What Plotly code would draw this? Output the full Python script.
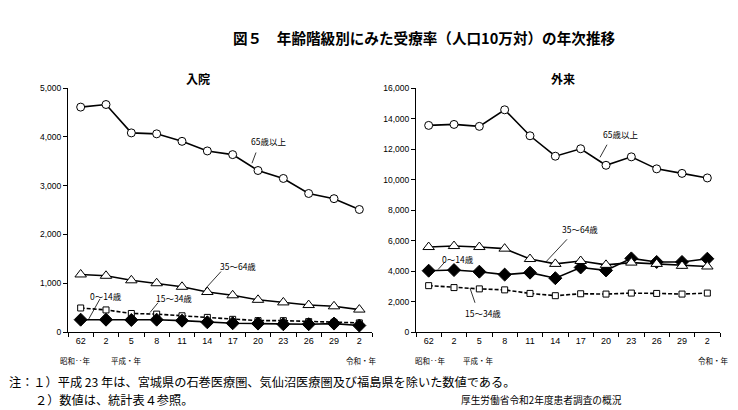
import plotly.graph_objects as go

years = ["S62", "H2", "H5", "H8", "H11", "H14", "H17", "H20", "H23", "H26", "H29", "R2"]
tick_labels = ["62", "2", "5", "8", "11", "14", "17", "20", "23", "26", "29", "2"]

# 入院
in_65 = [4611, 4664, 4082, 4063, 3909, 3712, 3637, 3311, 3148, 2840, 2734, 2512]
in_35 = [1180, 1153, 1060, 1000, 927, 820, 753, 660, 607, 553, 527, 460]
in_15 = [493, 453, 380, 367, 333, 300, 260, 233, 233, 213, 200, 187]
in_0 = [253, 253, 247, 253, 233, 200, 180, 173, 160, 160, 173, 133]

# 外来
out_65 = [13555, 13619, 13491, 14577, 12874, 11533, 12023, 10938, 11491, 10704, 10406, 10108]
out_35 = [5575, 5639, 5575, 5469, 4788, 4469, 4660, 4405, 4554, 4469, 4341, 4299]
out_0 = [4022, 4064, 3958, 3766, 3894, 3532, 4235, 4043, 4830, 4596, 4596, 4809]
out_15 = [3043, 2915, 2830, 2766, 2532, 2383, 2511, 2490, 2554, 2532, 2490, 2554]

JP = "Noto Sans CJK JP"
NUM = "Liberation Sans, Arial"

fig = go.Figure()

def add_series(vals, xa, ya, symbol, size, dash, fill):
    fig.add_trace(go.Scatter(
        x=years, y=vals, xaxis=xa, yaxis=ya, mode="lines+markers",
        line=dict(color="black", width=1.6, dash=dash),
        marker=dict(symbol=symbol, size=size, color=fill,
                    line=dict(color="black", width=1)),
        showlegend=False, hoverinfo="skip"))

# left
add_series(in_15, "x", "y", "square", 6, "4px,2px", "white")
add_series(in_0, "x", "y", "diamond", 10, "solid", "black")
add_series(in_35, "x", "y", "triangle-up", 10, "solid", "white")
add_series(in_65, "x", "y", "circle", 8, "solid", "white")
# right
add_series(out_15, "x2", "y2", "square", 6, "4px,2px", "white")
add_series(out_0, "x2", "y2", "diamond", 10, "solid", "black")
add_series(out_35, "x2", "y2", "triangle-up", 10, "solid", "white")
add_series(out_65, "x2", "y2", "circle", 8, "solid", "white")

xcommon = dict(type="category", categoryorder="array", categoryarray=years,
               tickmode="array", tickvals=years, ticktext=tick_labels,
               tickson="boundaries", ticks="outside", ticklen=4, tickcolor="black",
               showline=True, linecolor="black", linewidth=1, showgrid=False,
               zeroline=False, range=[-0.5, 11.5], tickfont=dict(family=NUM, size=9, color="black"),
               fixedrange=True)
ycommon = dict(ticks="outside", ticklen=4, tickcolor="black", showline=True,
               linecolor="black", linewidth=1, showgrid=False, zeroline=False,
               tickformat=",d", tickfont=dict(family=NUM, size=8.5, color="black"),
               fixedrange=True)

fig.update_layout(
    width=738, height=410, margin=dict(l=0, r=0, t=0, b=0),
    paper_bgcolor="white", plot_bgcolor="white",
    xaxis=dict(domain=[60/738, 364/738], anchor="y", **xcommon),
    yaxis=dict(domain=[1-327/410, 1-77/410], anchor="x", range=[0, 5000], dtick=1000, **ycommon),
    xaxis2=dict(domain=[408/738, 712/738], anchor="y2", **xcommon),
    yaxis2=dict(domain=[1-327/410, 1-77/410], anchor="x2", range=[0, 16000], dtick=2000, **ycommon),
)

ann = []
def txt(x, y, s, size=9, bold=False, xanchor="center", family=JP):
    ann.append(dict(x=x/738, y=1-y/410, xref="paper", yref="paper", text=(f"<b>{s}</b>" if bold else s),
                    showarrow=False, xanchor=xanchor, yanchor="middle", borderpad=0,
                    font=dict(family=family, size=size, color="black")))

txt(416, 25, "図５　年齢階級別にみた受療率（人口10万対）の年次推移", size=14.6, bold=True)
txt(190, 67, "入院", size=12, bold=True)
txt(555, 67, "外来", size=12, bold=True)

# series labels left
txt(260, 131, "65歳以上", size=8.5)
txt(230, 259, "35～64歳", size=8.5)
txt(166, 292, "15～34歳", size=8.5)
txt(98, 290, "0～14歳", size=8.5)
# series labels right
txt(612, 124, "65歳以上", size=8.5)
txt(572, 221, "35～64歳", size=8.5)
txt(450, 252, "0～14歳", size=8.5)
txt(475, 307, "15～34歳", size=8.5)

# era labels
for x, s in [(67, "昭和‥年"), (118, "平成・年"), (353, "令和・年"),
             (422, "昭和‥年"), (470, "平成・年"), (705, "令和・年")]:
    txt(x, 356, s, size=7.5)

# notes
txt(0, 378, "注：１）平成 23 年は、宮城県の石巻医療圏、気仙沼医療圏及び福島県を除いた数値である。", size=12.2, xanchor="left")
txt(26, 397, "２）数値は、統計表４参照。", size=12.2, xanchor="left")
txt(452, 397, "厚生労働省令和2年度患者調査の概況", size=9.7, xanchor="left")

fig.update_layout(annotations=ann)

shapes = []
for (x0, y0, x1, y1) in [(248, 143, 244, 154), (213, 265, 197, 283), (150, 297, 142, 307),
                         (92, 293, 80, 315), (599, 135, 592, 148), (559, 232, 538, 255),
                         (437, 255, 430, 263), (467, 297, 462, 282)]:
    shapes.append(dict(type="line", xref="paper", yref="paper",
                       x0=x0/738, y0=1-y0/410, x1=x1/738, y1=1-y1/410,
                       line=dict(color="black", width=0.8)))
fig.update_layout(shapes=shapes)

fig.write_html("out.html")
